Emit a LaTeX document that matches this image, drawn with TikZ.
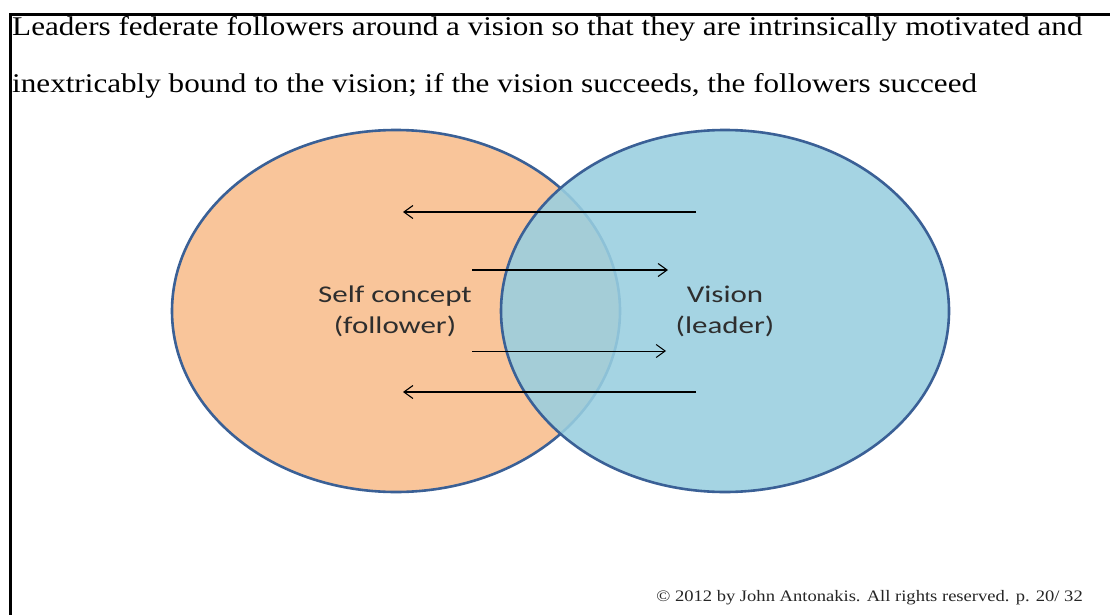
\documentclass[tikz,border=0pt]{standalone}
\usepackage{fontspec}
\setmainfont{Liberation Serif}
\newfontfamily\calib{Carlito}
\usetikzlibrary{shapes.geometric,arrows.meta}
\definecolor{peach}{HTML}{F9C59A}
\definecolor{skyb}{HTML}{99CFE0}
\definecolor{rim}{HTML}{3A6096}
\definecolor{lbl}{HTML}{2E2E2E}
\tikzset{
  venn/.style={ellipse, draw=rim, line width=2.6pt, minimum width=448pt, minimum height=362pt, inner sep=0pt},
  lab/.style={font=\calib\fontsize{24}{31}\selectfont, text=lbl, align=center, xscale=1.29},
  flow/.style={line width=1.2pt, -{Straight Barb[length=9pt,width=13pt,line width=1.1pt]}},
  thinflow/.style={line width=0.9pt, -{Straight Barb[length=9pt,width=13pt,line width=1pt]}},
  frame/.style={line width=3pt, black}
}
\begin{document}
\begin{tikzpicture}[x=1pt,y=-1pt]
\useasboundingbox (0,0) rectangle (1110,615);
\fill[white] (0,0) rectangle (1110,615);
% frame
\draw[frame] (10,615) -- (10,15) -- (1110,15);
% title
\node[anchor=base west, inner sep=0pt, font=\fontsize{27}{30}\selectfont, xscale=1.153] (t1) at (12,36) {Leaders federate followers around a vision so that they are intrinsically motivated and};
\node[anchor=base west, inner sep=0pt, font=\fontsize{27}{30}\selectfont, xscale=1.153] (t2) at (12,93) {inextricably bound to the vision; if the vision succeeds, the followers succeed};
% circles
\node[venn, fill=peach] (self) at (396,311) {};
\node[venn, fill=skyb, fill opacity=0.88] (vis) at (725,311) {};
% labels
\node[lab] (sl) at (395,311) {Self concept\\(follower)};
\node[lab] (vl) at (725,311) {Vision\\(leader)};
% arrow end points
\coordinate (a1s) at (696,212); \coordinate (a1e) at (403,212);
\coordinate (a2s) at (472,270); \coordinate (a2e) at (668,270);
\coordinate (a3s) at (472,351); \coordinate (a3e) at (666,351);
\coordinate (a4s) at (696,392); \coordinate (a4e) at (403,392);
\draw[flow] (a1s) -- (a1e);
\draw[flow] (a2s) -- (a2e);
\draw[thinflow] (a3s) -- (a3e);
\draw[flow] (a4s) -- (a4e);
% footer
\node[anchor=base east, inner sep=0pt, font=\fontsize{16}{18}\selectfont, text=black!85, xscale=1.16] (ft) at (1083,601) {\textcopyright{} 2012 by John Antonakis. All rights reserved. p. 20/ 32};
\end{tikzpicture}
\end{document}
